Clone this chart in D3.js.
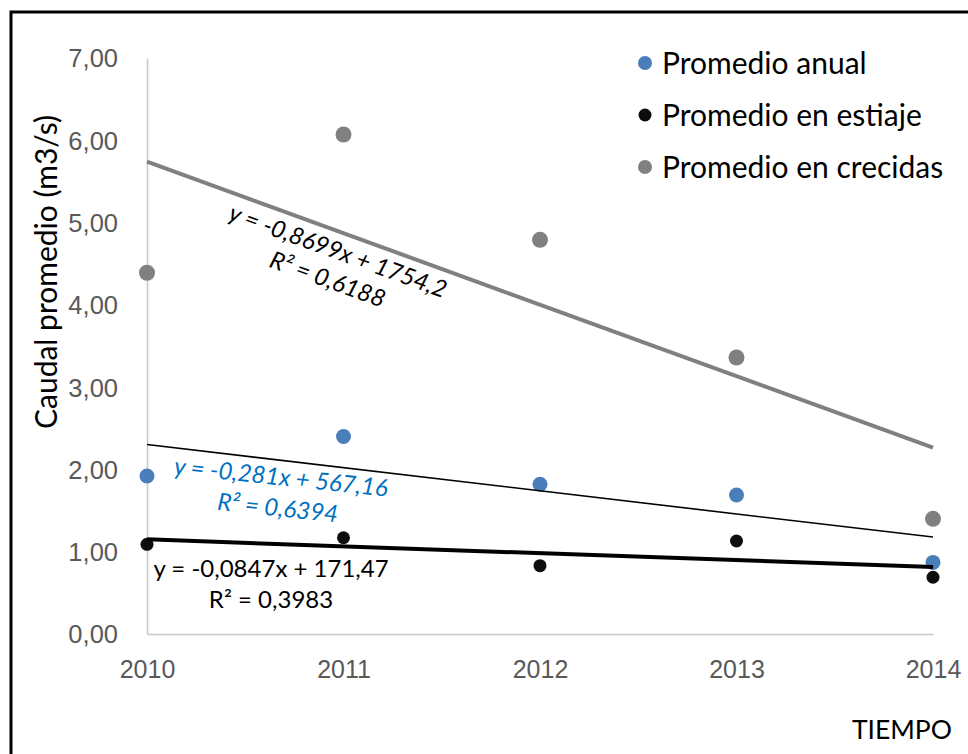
<!DOCTYPE html>
<html>
<head>
<meta charset="utf-8">
<script src="https://cdn.jsdelivr.net/npm/d3@7"></script>
<style>
  html, body { margin: 0; padding: 0; background: #fff; }
  svg { display: block; font-family: Lato, "Open Sans", sans-serif; }
</style>
</head>
<body>
<svg id="chart" width="968" height="754"></svg>
<script>
// Annual flow averages per year (m3/s)
const years = [2010, 2011, 2012, 2013, 2014];
const promedioAnual = [1.92, 2.40, 1.82, 1.69, 0.87];
const promedioEstiaje = [1.09, 1.17, 0.83, 1.13, 0.69];
const promedioCrecidas = [4.39, 6.07, 4.79, 3.36, 1.40];
const yTicks = [0, 1, 2, 3, 4, 5, 6, 7];
const seriesNames = ["Promedio anual", "Promedio en estiaje", "Promedio en crecidas"];
const trendLabels = [
  ["y = -0,281x + 567,16", "R² = 0,6394"],
  ["y = -0,0847x + 171,47", "R² = 0,3983"],
  ["y = -0,8699x + 1754,2", "R² = 0,6188"]
];

const svg = d3.select("#chart");
const margin = { left: 147, right: 35, top: 58, bottom: 120 };
const W = 968, H = 754;

const x = d3.scaleLinear().domain([2010, 2014]).range([margin.left, W - margin.right]);
const y = d3.scaleLinear().domain([0, 7]).range([H - margin.bottom, margin.top]);

const locale = d3.formatLocale({ decimal: ",", thousands: ".", grouping: [3], currency: ["", ""] });
const fmt = locale.format(".2f");

// chart frame
svg.append("rect")
  .attr("x", 11).attr("y", 12).attr("width", 1100).attr("height", 900)
  .attr("fill", "none").attr("stroke", "#000").attr("stroke-width", 3);

// axes
const yAxis = d3.axisLeft(y).tickValues(yTicks).tickFormat(fmt).tickSize(0).tickPadding(29);
const gy = svg.append("g").attr("transform", `translate(${x(2010)},0)`).call(yAxis);
gy.select(".domain").attr("stroke", "#c8c8c8").attr("stroke-width", 1.5);
gy.selectAll("text").attr("fill", "#595959").style("font-size", "25.5px").attr("dy", "0.35em");

const xAxis = d3.axisBottom(x).tickValues(years).tickFormat(d3.format("d")).tickSize(0).tickPadding(26);
const gx = svg.append("g").attr("transform", `translate(0,${y(0)})`).call(xAxis);
gx.select(".domain").attr("stroke", "#c8c8c8").attr("stroke-width", 1.5);
gx.selectAll("text").attr("fill", "#595959").style("font-size", "25px");

// axis titles
svg.append("text")
  .attr("transform", "translate(57,272) rotate(-90)")
  .attr("text-anchor", "middle")
  .style("font-size", "30px").attr("fill", "#000")
  .text("Caudal promedio (m3/s)");

svg.append("text")
  .attr("x", 952).attr("y", 739)
  .attr("text-anchor", "end")
  .style("font-size", "26.5px").attr("fill", "#000")
  .text("TIEMPO");

// series definitions
const series = [
  { name: seriesNames[0], values: promedioAnual, color: "#4a7ebb", r: 7.5,
    trend: { color: "#000", width: 1.6 } },
  { name: seriesNames[1], values: promedioEstiaje, color: "#0d0d0d", r: 6.5,
    trend: { color: "#000", width: 4 } },
  { name: seriesNames[2], values: promedioCrecidas, color: "#808080", r: 8,
    trend: { color: "#808080", width: 4 } }
];

// least-squares fit
function linreg(xs, ys) {
  const mx = d3.mean(xs), my = d3.mean(ys);
  const sxy = d3.sum(xs, (v, i) => (v - mx) * (ys[i] - my));
  const sxx = d3.sum(xs, v => (v - mx) * (v - mx));
  const b = sxy / sxx;
  return { slope: b, intercept: my - b * mx };
}

// points
series.forEach(s => {
  svg.append("g").selectAll("circle")
    .data(years.map((yr, i) => ({ yr, v: s.values[i] })))
    .join("circle")
    .attr("cx", d => x(d.yr)).attr("cy", d => y(d.v))
    .attr("r", s.r).attr("fill", s.color);
});

// trendlines
const line = d3.line().x(d => x(d[0])).y(d => y(d[1]));
series.forEach(s => {
  const fit = linreg(years, s.values);
  const ends = [2010, 2014].map(t => [t, fit.intercept + fit.slope * t]);
  svg.append("path")
    .attr("d", line(ends))
    .attr("fill", "none")
    .attr("stroke", s.trend.color)
    .attr("stroke-width", s.trend.width);
});

// trendline equations
function eqLabel(cx, cy, angle, lines, color, italic, gap) {
  const g = svg.append("g").attr("transform", `translate(${cx},${cy}) rotate(${angle})`);
  lines.forEach((t, i) => {
    g.append("text")
      .attr("x", 0).attr("y", i * gap)
      .attr("dy", "0.35em")
      .attr("text-anchor", "middle")
      .attr("fill", color)
      .style("font-size", "24px")
      .style("font-style", italic ? "italic" : "normal")
      .text(t);
  });
}
eqLabel(338, 251, 20, trendLabels[2], "#000", true, 30);
eqLabel(281, 477, 6, trendLabels[0], "#0070c0", true, 31);
eqLabel(271, 569, 0, trendLabels[1], "#000", false, 31);

// legend
const legend = svg.append("g");
series.forEach((s, i) => {
  const ly = 63 + i * 52;
  legend.append("circle").attr("cx", 645).attr("cy", ly)
    .attr("r", i === 1 ? 6.5 : 7).attr("fill", s.color);
  legend.append("text").attr("x", 662).attr("y", ly).attr("dy", "0.36em")
    .style("font-size", "30px").attr("fill", "#000").text(s.name);
});
</script>
</body>
</html>
